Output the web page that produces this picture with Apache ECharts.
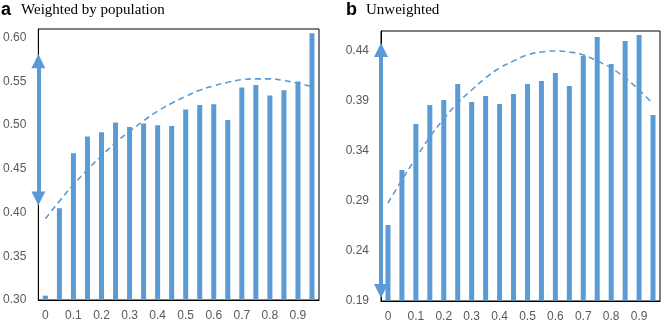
<!DOCTYPE html>
<html>
<head>
<meta charset="utf-8">
<script src="https://cdn.jsdelivr.net/npm/echarts@6/dist/echarts.min.js"></script>
<style>
html,body{margin:0;padding:0;background:#fff;}
#chart{width:661px;height:323px;}
</style>
</head>
<body>
<div id="chart"></div>
<script>
// x categories (share of ... from 0 to 0.95)
const categories = ['0','0.05','0.1','0.15','0.2','0.25','0.3','0.35','0.4','0.45',
                    '0.5','0.55','0.6','0.65','0.7','0.75','0.8','0.85','0.9','0.95'];

// panel a - weighted by population
const weightedBars = [0.305, 0.405, 0.468, 0.487, 0.492, 0.503, 0.498, 0.502, 0.500, 0.499,
                      0.518, 0.523, 0.524, 0.506, 0.543, 0.546, 0.534, 0.540, 0.550, 0.605];
const weightedTrend = [0.393, 0.413, 0.432, 0.449, 0.465, 0.480, 0.493, 0.505, 0.516, 0.525,
                       0.533, 0.540, 0.545, 0.549, 0.552, 0.553, 0.553, 0.551, 0.548, 0.544];
// range arrow (centres of the two heads)
const weightedArrow = [0.416, 0.573];

// panel b - unweighted
const unweightedBars = [0.266, 0.321, 0.367, 0.386, 0.391, 0.407, 0.389, 0.395, 0.387, 0.397,
                        0.407, 0.410, 0.418, 0.405, 0.435, 0.454, 0.427, 0.450, 0.456, 0.376];
const unweightedTrend = [0.288, 0.311, 0.333, 0.354, 0.372, 0.388, 0.401, 0.413, 0.423, 0.430,
                         0.436, 0.439, 0.440, 0.439, 0.436, 0.430, 0.423, 0.413, 0.401, 0.387];
const unweightedArrow = [0.200, 0.441];

const BLUE = '#5b9bd5';
const LABEL = '#595959';
// right panel ticks start at 0.19, so plot it shifted to keep min on the interval
const OFFSET_B = 0.19;
const shiftB = v => +(v - OFFSET_B).toFixed(4);

const chart = echarts.init(document.getElementById('chart'));

function xAxisFor(gridIndex){
    return {
        type: 'category',
        gridIndex: gridIndex,
        data: categories,
        axisTick: {show: false},
        axisLine: {show: true, onZero: false, lineStyle: {color: '#000', width: 1}},
        axisLabel: {interval: 1, color: LABEL, fontSize: 12, fontFamily: 'Liberation Sans', margin: 10}
    };
}

function arrowSeries(xIdx, yIdx, values){
    return {
        type: 'lines',
        coordinateSystem: 'cartesian2d',
        xAxisIndex: xIdx,
        yAxisIndex: yIdx,
        clip: false,
        silent: true,
        z: 10,
        symbol: ['triangle', 'triangle'],
        symbolSize: 14,
        lineStyle: {color: BLUE, width: 4, opacity: 1, curveness: 0},
        data: [{coords: [[-0.5, values[0]], [-0.5, values[1]]]}]
    };
}

const option = {
    animation: false,
    backgroundColor: '#fff',
    title: [
        {
            left: 0, top: 1, padding: 0,
            text: '{l|a}{t|Weighted by population}',
            textStyle: {rich: {
                l: {fontFamily: 'Liberation Sans', fontWeight: 'bold', fontSize: 18, color: '#000', padding: [0, 10, 0, 1]},
                t: {fontFamily: 'Liberation Serif', fontWeight: 'normal', fontSize: 15, color: '#000'}
            }}
        },
        {
            left: 346, top: 1, padding: 0,
            text: '{l|b}{t|Unweighted}',
            textStyle: {rich: {
                l: {fontFamily: 'Liberation Sans', fontWeight: 'bold', fontSize: 18, color: '#000', padding: [0, 9, 0, 0]},
                t: {fontFamily: 'Liberation Serif', fontWeight: 'normal', fontSize: 15, color: '#000'}
            }}
        }
    ],
    grid: [
        {left: 36, right: 342, top: 29, bottom: 23, show: true, borderColor: '#000', borderWidth: 1, containLabel: false},
        {left: 381, right: 1, top: 31, bottom: 22, show: true, borderColor: '#000', borderWidth: 1, containLabel: false}
    ],
    xAxis: [
        xAxisFor(0),
        xAxisFor(1),
        {type: 'value', gridIndex: 0, min: -0.5, max: 19.5, show: false},
        {type: 'value', gridIndex: 1, min: -0.5, max: 19.5, show: false}
    ],
    yAxis: [
        {
            type: 'value', gridIndex: 0,
            min: 0.30, max: 0.61, interval: 0.05,
            splitLine: {show: false},
            axisTick: {show: false},
            axisLine: {show: true, onZero: false, lineStyle: {color: '#000', width: 1}},
            axisLabel: {
                color: LABEL, fontSize: 12, fontFamily: 'Liberation Sans', margin: 12,
                formatter: v => (Math.round(v * 100) % 5 === 0 ? v.toFixed(2) : '')
            }
        },
        {
            type: 'value', gridIndex: 1,
            min: 0, max: 0.27, interval: 0.05,
            splitLine: {show: false},
            axisTick: {show: false},
            axisLine: {show: true, onZero: false, lineStyle: {color: '#000', width: 1}},
            axisLabel: {
                color: LABEL, fontSize: 12, fontFamily: 'Liberation Sans', margin: 12,
                formatter: v => {
                    const r = Math.round(v * 100);
                    return r % 5 === 0 ? ((r + OFFSET_B * 100) / 100).toFixed(2) : '';
                }
            }
        }
    ],
    series: [
        {
            name: 'a bars', type: 'bar', xAxisIndex: 0, yAxisIndex: 0,
            barWidth: 5, itemStyle: {color: BLUE},
            data: weightedBars
        },
        {
            name: 'a trend', type: 'line', xAxisIndex: 0, yAxisIndex: 0,
            smooth: true, symbol: 'none', z: 4,
            lineStyle: {color: BLUE, width: 1.6, type: [6, 4]},
            data: weightedTrend
        },
        arrowSeries(2, 0, weightedArrow),
        {
            name: 'b bars', type: 'bar', xAxisIndex: 1, yAxisIndex: 1,
            barWidth: 5, itemStyle: {color: BLUE},
            data: unweightedBars.map(shiftB)
        },
        {
            name: 'b trend', type: 'line', xAxisIndex: 1, yAxisIndex: 1,
            smooth: true, symbol: 'none', z: 4,
            lineStyle: {color: BLUE, width: 1.6, type: [6, 4]},
            data: unweightedTrend.map(shiftB)
        },
        arrowSeries(3, 1, unweightedArrow.map(shiftB))
    ]
};

chart.setOption(option);
</script>
</body>
</html>
